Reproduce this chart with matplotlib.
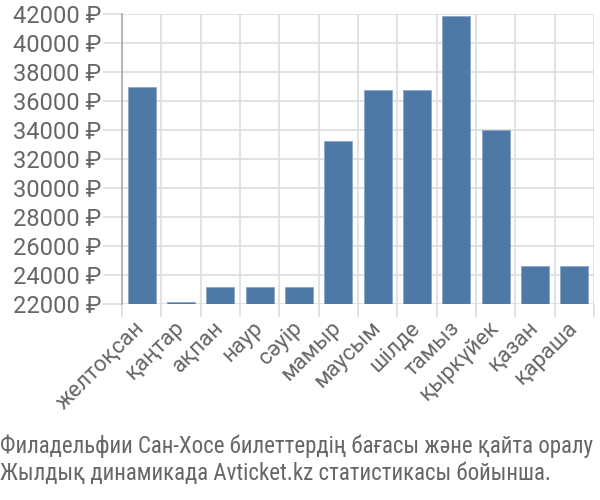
import matplotlib
matplotlib.use('Agg')
import matplotlib.pyplot as plt
import numpy as np

months = ['желтоқсан', 'қаңтар', 'ақпан', 'наур', 'сәуір', 'мамыр',
          'маусым', 'шілде', 'тамыз', 'қыркүйек', 'қазан', 'қараша']
prices = [36970, 22120, 23150, 23150, 23150, 33250,
          36780, 36780, 41880, 34000, 24620, 24620]
yticks = list(range(22000, 42001, 2000))
caption = ('Филадельфии Сан-Хосе билеттердің бағасы және қайта оралу\n'
           'Жылдық динамикада Avticket.kz статистикасы бойынша.')

plt.rcParams['font.family'] = ['Roboto', 'DejaVu Sans']
text_color = '#666666'
grid_color = '#dddddd'

fig = plt.figure(figsize=(6, 5), dpi=100)
ax = fig.add_axes([122 / 600, 1 - 304 / 500, 472 / 600, 290 / 500])

x = np.arange(len(months))
ax.bar(x, prices, width=0.72, color='#4e79a7',
       edgecolor='#8aa6c4', linewidth=0.6, zorder=3)

ax.set_xlim(-0.5, len(months) - 0.5)
ax.set_ylim(22000, 42000)
ax.set_yticks(yticks)
ax.set_yticklabels([f'{v} ₽' for v in yticks], fontsize=17, color=text_color)
ax.set_xticks(x)
ax.set_xticklabels(months, rotation=45, ha='right', va='center',
                   rotation_mode='anchor', fontsize=16, color=text_color)

# vertical gridlines at category boundaries
ax.set_xticks(np.arange(-0.5, len(months), 1), minor=True)
ax.grid(True, which='minor', axis='x', color=grid_color, linewidth=1.2, zorder=0)
ax.grid(True, which='major', axis='y', color=grid_color, linewidth=1.2, zorder=0)
ax.tick_params(axis='x', which='major', length=0, pad=15)
ax.tick_params(axis='x', which='minor', length=9, color=grid_color, width=1.2)
ax.tick_params(axis='y', length=14, color=grid_color, width=1.2, pad=1)

for side in ['top', 'right', 'bottom']:
    ax.spines[side].set_visible(False)
ax.spines['left'].set_color('#aaaaaa')
ax.spines['left'].set_linewidth(1.2)

fig.text(0.0, 0.03, caption, fontsize=16.5, color=text_color,
         family=['Roboto Condensed', 'DejaVu Sans'],
         ha='left', va='bottom', linespacing=1.2)

fig.savefig('out.png', dpi=100)
